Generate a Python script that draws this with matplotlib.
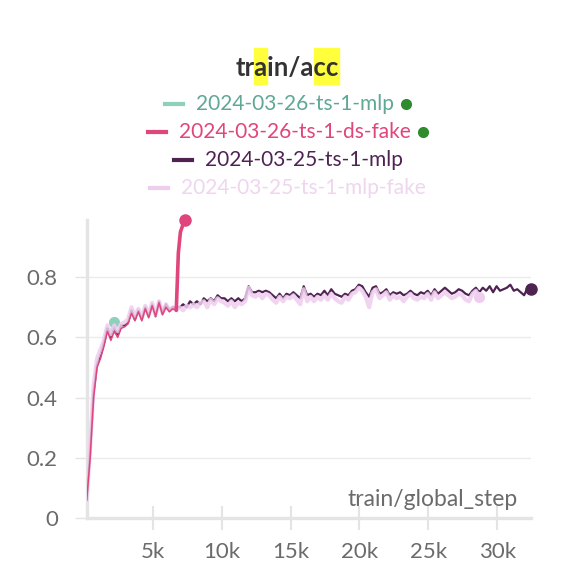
import numpy as np
import matplotlib.pyplot as plt
from matplotlib.patches import Rectangle
from matplotlib.lines import Line2D

plt.rcParams['font.family'] = ['Lato', 'DejaVu Sans']

# logged steps (every 250 steps)
steps = np.arange(200, 32500, 250)

# 2024-03-25-ts-1-mlp
acc_mlp_0325 = [
    0.06, 0.22, 0.42, 0.51, 0.54, 0.58, 0.63, 0.60, 0.63, 0.61,
    0.64, 0.64, 0.65, 0.69, 0.66, 0.69, 0.66, 0.70, 0.67, 0.71,
    0.67, 0.72, 0.68, 0.71, 0.69, 0.70, 0.70, 0.70, 0.71, 0.70,
    0.72, 0.71, 0.72, 0.71, 0.73, 0.72, 0.73, 0.72, 0.74, 0.73,
    0.73, 0.72, 0.73, 0.72, 0.73, 0.72, 0.73, 0.77, 0.75, 0.75,
    0.755, 0.75, 0.755, 0.75, 0.74, 0.73, 0.745, 0.73, 0.745, 0.74,
    0.75, 0.74, 0.73, 0.77, 0.74, 0.745, 0.735, 0.745, 0.74, 0.755,
    0.74, 0.76, 0.745, 0.74, 0.735, 0.745, 0.74, 0.755, 0.76, 0.775,
    0.77, 0.75, 0.735, 0.765, 0.77, 0.745, 0.75, 0.76, 0.74, 0.75,
    0.745, 0.75, 0.74, 0.745, 0.755, 0.745, 0.74, 0.75, 0.745, 0.755,
    0.74, 0.76, 0.745, 0.755, 0.765, 0.755, 0.745, 0.75, 0.76, 0.755,
    0.745, 0.74, 0.755, 0.765, 0.75, 0.765, 0.755, 0.77, 0.75, 0.77,
    0.755, 0.76, 0.765, 0.775, 0.755, 0.76, 0.75, 0.74, 0.765, 0.76,
]

# 2024-03-25-ts-1-mlp-fake
acc_mlp_fake_0325 = [
    0.06, 0.24, 0.44, 0.53, 0.56, 0.59, 0.64, 0.61, 0.64, 0.62,
    0.645, 0.65, 0.66, 0.70, 0.67, 0.695, 0.665, 0.705, 0.675, 0.715,
    0.675, 0.72, 0.68, 0.71, 0.69, 0.70, 0.69, 0.70, 0.69, 0.705,
    0.70, 0.71, 0.70, 0.715, 0.72, 0.70, 0.725, 0.71, 0.73, 0.72,
    0.715, 0.705, 0.72, 0.70, 0.715, 0.71, 0.72, 0.765, 0.74, 0.735,
    0.745, 0.73, 0.745, 0.74, 0.725, 0.715, 0.735, 0.72, 0.735, 0.73,
    0.74, 0.725, 0.71, 0.76, 0.72, 0.735, 0.72, 0.735, 0.725, 0.74,
    0.725, 0.745, 0.73, 0.72, 0.715, 0.735, 0.725, 0.745, 0.75, 0.765,
    0.755, 0.735, 0.70, 0.75, 0.76, 0.73, 0.74, 0.75, 0.725, 0.74,
    0.73, 0.735, 0.72, 0.735, 0.745, 0.73, 0.725, 0.735, 0.73, 0.745,
    0.725, 0.75, 0.73, 0.74, 0.75, 0.74, 0.73, 0.735, 0.745, 0.74,
    0.725, 0.72, 0.745, 0.755, 0.735,
]

# 2024-03-26-ts-1-ds-fake
steps_ds_fake = list(steps[:27]) + [6850, 7000, 7150, 7350]
acc_ds_fake_0326 = [
    0.06, 0.20, 0.40, 0.50, 0.53, 0.57, 0.62, 0.59, 0.62, 0.60,
    0.63, 0.635, 0.645, 0.68, 0.655, 0.685, 0.655, 0.695, 0.665, 0.705,
    0.67, 0.715, 0.675, 0.70, 0.685, 0.695, 0.69, 0.88, 0.95, 0.97, 0.99,
]

# 2024-03-26-ts-1-mlp
acc_mlp_0326 = [0.06, 0.23, 0.43, 0.52, 0.55, 0.59, 0.63, 0.62, 0.65]

run_names = ['2024-03-26-ts-1-mlp', '2024-03-26-ts-1-ds-fake',
             '2024-03-25-ts-1-mlp', '2024-03-25-ts-1-mlp-fake']
line_colors = ['#8fd0bc', '#e0457b', '#4e2352', '#efcdee']
text_colors = ['#5fa893', '#e0457b', '#4e2352', '#efd6ef']
running = [True, True, False, False]

W, H = 574, 586
fig = plt.figure(figsize=(W / 100, H / 100), dpi=100)
ax = fig.add_axes([87 / W, (H - 518) / H, (531 - 87) / W, (518 - 220) / H])

grey = '#6b6b6b'
ax.plot(steps[:len(acc_mlp_0325)], acc_mlp_0325, color=line_colors[2], lw=1.6,
        zorder=3, solid_joinstyle='round')
ax.plot(steps[:len(acc_mlp_fake_0325)], acc_mlp_fake_0325, color=line_colors[3],
        lw=3.0, alpha=0.85, zorder=4, solid_joinstyle='round')
ax.plot(steps_ds_fake, acc_ds_fake_0326, color=line_colors[1], lw=1.1, zorder=5)
ax.plot(steps_ds_fake[-5:], acc_ds_fake_0326[-5:], color=line_colors[1], lw=2.6,
        zorder=5, solid_capstyle='round')
ax.plot(steps[:len(acc_mlp_0326)], acc_mlp_0326, color=line_colors[0], lw=1.0,
        zorder=2)

# end markers
ax.plot(steps[len(acc_mlp_0326) - 1], acc_mlp_0326[-1], 'o', ms=7,
        color=line_colors[0], zorder=2, clip_on=False)
ax.plot(steps_ds_fake[-1], acc_ds_fake_0326[-1], 'o', ms=8,
        color=line_colors[1], zorder=6, clip_on=False)
ax.plot(steps[len(acc_mlp_0325) - 1], acc_mlp_0325[-1], 'o', ms=8,
        color=line_colors[2], zorder=6, clip_on=False)
ax.plot(steps[len(acc_mlp_fake_0325) - 1], acc_mlp_fake_0325[-1], 'o', ms=7,
        color=line_colors[3], zorder=4, clip_on=False)

ax.set_xlim(220, 32450)
ax.set_ylim(0, 0.99)
ax.set_xticks([5000, 10000, 15000, 20000, 25000, 30000])
ax.set_xticklabels(['5k', '10k', '15k', '20k', '25k', '30k'])
ax.set_yticks([0, 0.2, 0.4, 0.6, 0.8])
ax.set_yticklabels(['0', '0.2', '0.4', '0.6', '0.8'])
ax.grid(axis='y', color='#ebebeb', lw=1)
ax.set_axisbelow(True)
for s in ['top', 'right']:
    ax.spines[s].set_visible(False)
for s in ['left', 'bottom']:
    ax.spines[s].set_color('#e4e4e4')
    ax.spines[s].set_linewidth(2.4)
ax.tick_params(axis='y', length=9, width=1, color='#e4e4e4', labelcolor=grey,
               labelsize=16, pad=12)
ax.tick_params(axis='x', direction='inout', length=17, width=1.5, color='#e4e4e4',
               labelcolor=grey, labelsize=16, pad=9)
ax.text(0.97, 0.027, 'train/global_step', transform=ax.transAxes, ha='right',
        va='bottom', color=grey, fontsize=16.5)

# title with highlighted letters
fig.canvas.draw()
r = fig.canvas.get_renderer()
title = 'train/acc'
tkw = dict(fontsize=18.5, fontweight='bold', color='#333333')
t = fig.text(287 / W, 1 - 68 / H, title, ha='center', va='center', zorder=5, **tkw)
tb = t.get_window_extent(r)


def width_of(s, **kw):
    tmp = fig.text(0, 0, s, **kw)
    w = tmp.get_window_extent(r).width
    tmp.remove()
    return w


for a, b in [(2, 3), (7, 9)]:
    x0 = tb.x0 + width_of(title[:a], **tkw)
    x1 = tb.x0 + width_of(title[:b], **tkw)
    fig.patches.append(Rectangle((x0 / W, 1 - 84 / H), (x1 - x0) / W, 36 / H,
                                 transform=fig.transFigure, color='#ffff3c',
                                 zorder=1))

# legend rows
row_y = [104, 132, 160, 188]
for name, lc, tc, run, y in zip(run_names, line_colors, text_colors, running, row_y):
    tw = width_of(name, fontsize=15)
    total = 18 + 13 + tw + (17 if run else 0)
    x = 288 - total / 2
    yf = 1 - y / H
    fig.add_artist(Line2D([x / W, (x + 18) / W], [yf, yf], color=lc, lw=3,
                          transform=fig.transFigure))
    fig.text((x + 31) / W, yf, name, fontsize=15, color=tc, va='center')
    if run:
        fig.add_artist(Line2D([(x + 31 + tw + 12) / W], [yf], marker='o', ms=7,
                              color='#2e8b2e', transform=fig.transFigure))

fig.savefig('out.png', dpi=100)
